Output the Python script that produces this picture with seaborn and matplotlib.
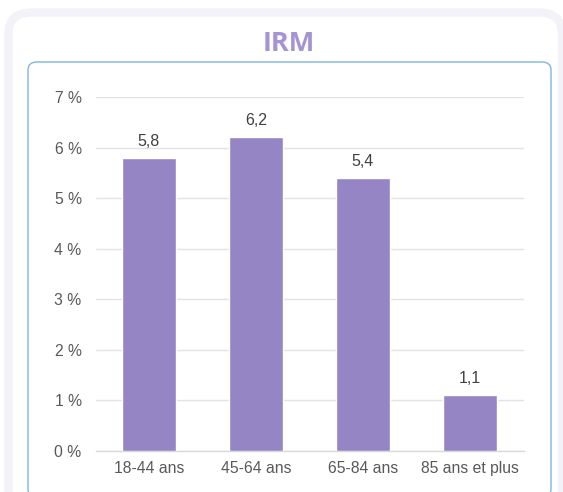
import matplotlib
matplotlib.use("Agg")
import matplotlib.pyplot as plt
from matplotlib.patches import FancyBboxPatch
import numpy as np
import pandas as pd
import seaborn as sns

# Data
categories = ["18-44 ans", "45-64 ans", "65-84 ans", "85 ans et plus"]
values = [5.8, 6.2, 5.4, 1.1]
value_labels = ["5,8", "6,2", "5,4", "1,1"]
y_ticks = [0, 1, 2, 3, 4, 5, 6, 7]

sns.set_theme(style="white")
plt.rcParams["font.family"] = ["Liberation Sans", "DejaVu Sans"]

W, H = 563, 492
fig = plt.figure(figsize=(W / 100, H / 100), dpi=100)
fig.patch.set_facecolor("white")


def px_box(x0, y0, x1, y1):
    # pixel box (top-left origin) -> figure fraction (x, y, w, h)
    return x0 / W, 1 - y1 / H, (x1 - x0) / W, (y1 - y0) / H


# outer light frame
x, y, w, h = px_box(8.5, 12.5, 562, 530)
outer = FancyBboxPatch((x, y), w, h,
                       boxstyle="round,pad=0,rounding_size=0.042",
                       transform=fig.transFigure, facecolor="white",
                       edgecolor="#f3f2f8", linewidth=6, zorder=0)
fig.patches.append(outer)

# inner blue frame (bottom runs off the image)
x, y, w, h = px_box(28, 62, 551, 497)
inner = FancyBboxPatch((x, y), w, h,
                       boxstyle="round,pad=0,rounding_size=0.016",
                       transform=fig.transFigure, facecolor="white",
                       edgecolor="#80b5e1", linewidth=1.0, zorder=1)
fig.patches.append(inner)

fig.text(289 / W, 1 - 50.7 / H, "IRM", ha="center", va="baseline",
         fontsize=19.5, fontweight="bold", color="#a593d4",
         family=["Open Sans", "DejaVu Sans"])

ax = fig.add_axes(px_box(95.5, 97, 523.5, 451))
ax.set_facecolor("none")
ax.set_zorder(2)

df = pd.DataFrame({"cat": categories, "val": values})
sns.barplot(data=df, x="cat", y="val", color="#9585c5", width=0.5,
            saturation=1, ax=ax, zorder=3)

ax.set_xlim(-0.5, 3.5)
ax.set_ylim(0, 7)
ax.set_yticks(y_ticks)
ax.set_yticklabels([f"{t} %" for t in y_ticks])
ax.yaxis.grid(True, color="#e3e3e3", linewidth=1)
ax.set_axisbelow(True)
ax.set_xlabel("")
ax.set_ylabel("")

for s in ["top", "right", "left"]:
    ax.spines[s].set_visible(False)
ax.spines["bottom"].set_color("#d9d9d9")
ax.spines["bottom"].set_linewidth(1)

ax.tick_params(axis="y", length=0, pad=10, labelsize=11.3, labelcolor="#595959")
ax.tick_params(axis="x", which="major", length=0, pad=7, labelsize=11.3,
               labelcolor="#595959")
ax.set_xticks(np.arange(-0.5, 4, 1), minor=True)
ax.tick_params(axis="x", which="minor", length=5, color="#d9d9d9", width=1)

for i, (v, lab) in enumerate(zip(values, value_labels)):
    ax.text(i, v + 0.24, lab, ha="center", va="baseline", fontsize=11.5,
            color="#404040")

fig.savefig("out.png", dpi=100)
